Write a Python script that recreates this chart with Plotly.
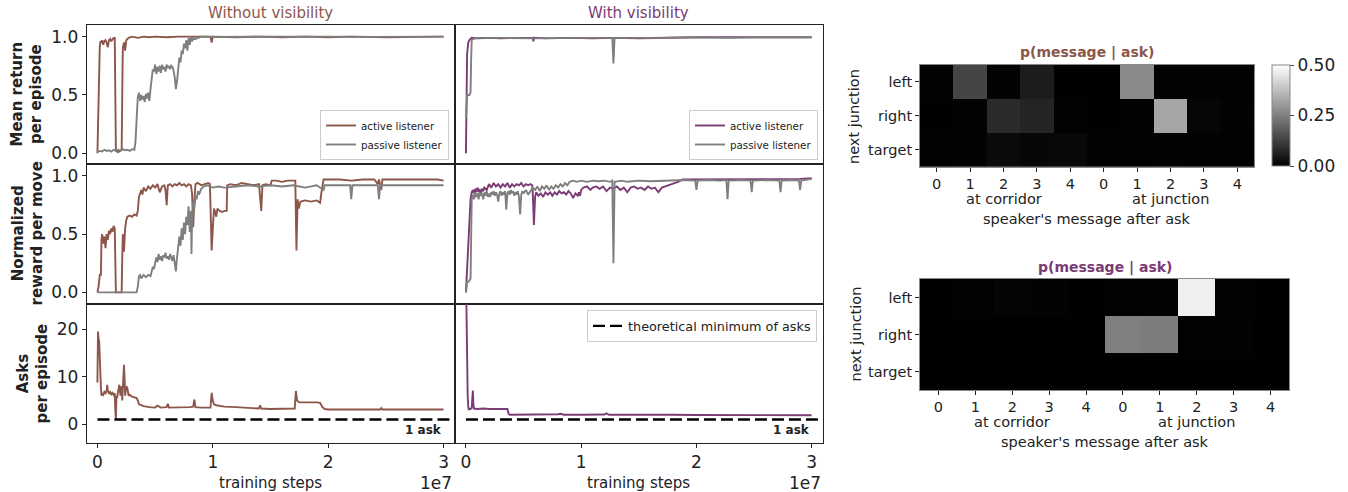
import plotly.graph_objects as go

# ---------------- DATA ----------------
# x in units of 1e7 training steps
wo_return_active = [(0,0.0),(0.005,0.3),(0.01,0.62),(0.015,0.58),(0.02,0.9),(0.025,0.96),(0.03,0.95),(0.04,0.97),(0.05,0.93),(0.06,0.96),
    (0.07,0.97),(0.08,0.95),(0.09,0.91),(0.10,0.97),(0.11,0.98),(0.12,0.96),(0.13,0.98),(0.14,0.99),(0.15,0.99),(0.155,0.5),
    (0.16,0.02),(0.18,0.01),(0.20,0.02),(0.21,0.03),(0.215,0.5),(0.22,0.9),(0.23,0.95),(0.24,0.88),(0.25,0.97),(0.26,0.98),
    (0.27,0.99),(0.30,1.0),(0.35,0.99),(0.40,1.0),(0.45,0.995),(0.50,1.0),(0.60,0.995),(0.70,1.0),(0.80,1.0),(0.90,0.995),
    (0.98,1.0),(0.99,0.95),(1.00,1.0),(1.2,0.995),(1.4,1.0),(1.6,0.995),(1.8,1.0),(2.0,0.995),(2.2,1.0),(2.5,0.995),(2.8,1.0),(3.0,1.0)]
wo_return_passive = [(0,0.01),(0.02,0.02),(0.04,0.015),(0.06,0.03),(0.08,0.02),(0.10,0.025),(0.12,0.015),(0.14,0.03),(0.16,0.02),
    (0.18,0.03),(0.20,0.02),(0.22,0.035),(0.24,0.025),(0.26,0.03),(0.28,0.02),(0.30,0.035),(0.32,0.03),(0.33,0.1),(0.34,0.3),
    (0.35,0.48),(0.36,0.52),(0.37,0.45),(0.38,0.5),(0.39,0.46),(0.40,0.49),(0.41,0.44),(0.42,0.51),(0.43,0.47),(0.44,0.52),
    (0.45,0.45),(0.46,0.55),(0.47,0.62),(0.48,0.72),(0.49,0.7),(0.50,0.76),(0.51,0.68),(0.52,0.74),(0.53,0.7),(0.54,0.75),
    (0.55,0.69),(0.56,0.76),(0.57,0.72),(0.58,0.74),(0.59,0.7),(0.60,0.76),(0.61,0.73),(0.62,0.75),(0.63,0.72),(0.64,0.75),
    (0.65,0.74),(0.66,0.71),(0.67,0.65),(0.68,0.55),(0.69,0.62),(0.70,0.7),(0.71,0.82),(0.72,0.78),(0.73,0.88),(0.74,0.85),
    (0.75,0.94),(0.76,0.9),(0.77,0.97),(0.78,0.88),(0.79,0.99),(0.80,0.93),(0.81,1.0),(0.82,0.96),(0.83,0.99),(0.85,0.98),
    (0.90,1.0),(1.0,0.998),(1.3,1.0),(1.6,0.998),(2.0,1.0),(2.4,0.998),(2.8,1.0),(3.0,1.0)]

wo_reward_active = [(0,0.0),(0.01,0.05),(0.02,0.15),(0.03,0.15),(0.035,0.45),(0.04,0.5),(0.05,0.42),(0.06,0.48),(0.07,0.38),
    (0.08,0.5),(0.09,0.45),(0.10,0.53),(0.11,0.5),(0.12,0.55),(0.13,0.52),(0.14,0.57),(0.15,0.55),(0.155,0.2),(0.16,0.0),
    (0.18,0.0),(0.20,0.0),(0.21,0.0),(0.215,0.3),(0.22,0.5),(0.23,0.35),(0.24,0.55),(0.25,0.62),(0.26,0.65),(0.28,0.66),
    (0.30,0.65),(0.32,0.67),(0.34,0.66),(0.35,0.7),(0.36,0.82),(0.37,0.85),(0.38,0.88),(0.39,0.84),(0.40,0.9),(0.42,0.87),
    (0.44,0.91),(0.46,0.89),(0.48,0.92),(0.50,0.9),(0.52,0.93),(0.54,0.86),(0.56,0.91),(0.58,0.92),(0.59,0.88),(0.60,0.75),
    (0.61,0.92),(0.63,0.93),(0.65,0.91),(0.67,0.93),(0.69,0.92),(0.71,0.94),(0.73,0.92),(0.75,0.93),(0.77,0.91),(0.79,0.93),
    (0.81,0.92),(0.82,0.85),(0.83,0.56),(0.84,0.8),(0.85,0.93),(0.87,0.94),(0.90,0.92),(0.93,0.93),(0.96,0.94),(0.975,0.93),
    (0.985,0.6),(0.99,0.36),(1.00,0.55),(1.01,0.72),(1.02,0.69),(1.03,0.65),(1.04,0.72),(1.06,0.7),(1.08,0.69),(1.10,0.7),
    (1.12,0.7),(1.125,0.92),(1.15,0.93),(1.2,0.92),(1.25,0.94),(1.3,0.93),(1.35,0.92),(1.40,0.93),(1.42,0.7),(1.43,0.92),
    (1.46,0.93),(1.50,0.92),(1.51,0.96),(1.55,0.96),(1.60,0.95),(1.65,0.96),(1.70,0.96),(1.715,0.96),(1.725,0.36),(1.735,0.8),
    (1.745,0.72),(1.76,0.78),(1.8,0.79),(1.85,0.78),(1.9,0.79),(1.93,0.77),(1.94,0.85),(1.96,0.97),(2.0,0.97),(2.1,0.97),
    (2.2,0.96),(2.3,0.97),(2.4,0.97),(2.43,0.93),(2.44,0.97),(2.46,0.88),(2.47,0.97),(2.6,0.97),(2.8,0.97),(2.95,0.97),(3.0,0.96)]
wo_reward_passive = [(0,0.0),(0.1,0.0),(0.2,0.0),(0.3,0.0),(0.34,0.0),(0.35,0.05),(0.36,0.14),(0.37,0.15),(0.38,0.12),(0.40,0.15),
    (0.42,0.13),(0.44,0.15),(0.46,0.14),(0.47,0.18),(0.48,0.22),(0.49,0.2),(0.50,0.27),(0.51,0.3),(0.52,0.26),(0.53,0.33),
    (0.54,0.28),(0.55,0.31),(0.56,0.27),(0.57,0.32),(0.58,0.3),(0.59,0.34),(0.60,0.29),(0.61,0.31),(0.62,0.28),(0.63,0.33),
    (0.64,0.3),(0.65,0.27),(0.66,0.32),(0.67,0.24),(0.68,0.18),(0.69,0.3),(0.70,0.42),(0.71,0.48),(0.72,0.4),(0.73,0.55),
    (0.74,0.45),(0.75,0.6),(0.76,0.5),(0.77,0.65),(0.78,0.58),(0.79,0.74),(0.80,0.52),(0.81,0.7),(0.815,0.33),(0.82,0.6),
    (0.83,0.78),(0.84,0.72),(0.85,0.83),(0.86,0.8),(0.87,0.87),(0.88,0.84),(0.90,0.89),(0.92,0.91),(0.95,0.92),(1.0,0.9),
    (1.05,0.91),(1.1,0.9),(1.2,0.91),(1.3,0.92),(1.4,0.91),(1.5,0.92),(1.6,0.91),(1.7,0.92),(1.8,0.9),(1.9,0.92),(1.96,0.88),
    (1.97,0.92),(2.1,0.92),(2.19,0.92),(2.2,0.8),(2.21,0.92),(2.3,0.92),(2.43,0.92),(2.44,0.8),(2.45,0.92),(2.6,0.92),
    (2.8,0.92),(3.0,0.92)]

wo_asks_active = [(0,8.8),(0.005,19.5),(0.01,18),(0.015,17.5),(0.02,12),(0.025,12.5),(0.03,8),(0.035,6),(0.04,6.5),(0.05,6.2),
    (0.06,6.8),(0.07,6.5),(0.08,7.0),(0.085,8.3),(0.09,7),(0.10,6.5),(0.11,6.8),(0.12,6.3),(0.13,6.6),(0.14,6.2),(0.15,6.5),
    (0.155,3),(0.16,1.0),(0.165,6),(0.17,5.5),(0.18,7),(0.19,8.3),(0.20,6),(0.21,8),(0.215,5),(0.225,11),(0.23,12.5),
    (0.235,10),(0.24,6),(0.25,8),(0.26,7.5),(0.27,6),(0.28,6.2),(0.30,5.8),(0.32,5.6),(0.34,5.5),(0.35,5),(0.36,4.2),
    (0.38,4.0),(0.40,3.8),(0.45,3.6),(0.50,3.5),(0.52,3.9),(0.55,3.5),(0.60,3.6),(0.61,4.3),(0.62,3.5),(0.70,3.5),(0.80,3.6),
    (0.83,3.7),(0.84,5.2),(0.85,3.6),(0.90,3.5),(0.98,3.5),(0.99,6.6),(1.0,5.0),(1.01,4.2),(1.03,4.0),(1.1,3.7),(1.2,3.6),
    (1.3,3.4),(1.40,3.3),(1.41,4.0),(1.42,3.3),(1.5,3.2),(1.6,3.2),(1.7,3.2),(1.71,3.3),(1.72,7.0),(1.73,5.0),(1.75,4.6),
    (1.8,4.6),(1.85,4.7),(1.90,4.6),(1.93,4.5),(1.95,3.6),(1.97,3.2),(2.0,3.1),(2.2,3.1),(2.45,3.1),(2.46,3.4),(2.47,3.1),
    (2.7,3.1),(3.0,3.1)]

wv_return_active = [(0,0.0),(0.005,0.4),(0.01,0.85),(0.02,0.95),(0.03,0.97),(0.05,0.99),(0.1,0.985),(0.2,0.99),(0.3,0.985),
    (0.4,0.99),(0.5,0.99),(0.58,0.99),(0.585,0.96),(0.59,0.99),(0.7,0.985),(0.9,0.99),(1.1,0.985),(1.3,0.99),(1.5,0.985),
    (1.7,0.99),(1.8,0.99),(2.0,0.995),(2.5,0.995),(3.0,0.995)]
wv_return_passive = [(0,0.3),(0.005,0.45),(0.01,0.5),(0.03,0.5),(0.04,0.52),(0.045,0.8),(0.05,0.97),(0.06,0.98),(0.1,0.99),
    (0.3,0.99),(0.6,0.985),(0.9,0.99),(1.27,0.99),(1.28,0.77),(1.29,0.99),(1.6,0.99),(2.0,0.995),(2.27,0.99),(2.5,0.995),
    (2.8,0.995),(3.0,0.995)]

wv_reward_active = [(0,0.0),(0.01,0.2),(0.02,0.45),(0.03,0.6),(0.04,0.8),(0.05,0.86),(0.06,0.88),(0.07,0.85),(0.08,0.89),
    (0.09,0.86),(0.10,0.9),(0.11,0.87),(0.12,0.88),(0.13,0.85),(0.14,0.89),(0.15,0.87),(0.16,0.9),(0.18,0.88),(0.20,0.93),
    (0.22,0.9),(0.24,0.94),(0.26,0.91),(0.28,0.93),(0.30,0.9),(0.32,0.93),(0.34,0.91),(0.36,0.94),(0.38,0.9),(0.40,0.93),
    (0.42,0.91),(0.44,0.93),(0.46,0.92),(0.48,0.94),(0.50,0.91),(0.52,0.93),(0.54,0.92),(0.56,0.93),(0.575,0.92),(0.58,0.85),
    (0.59,0.58),(0.60,0.82),(0.61,0.86),(0.63,0.83),(0.65,0.85),(0.67,0.82),(0.69,0.86),(0.71,0.84),(0.73,0.86),(0.75,0.83),
    (0.77,0.86),(0.79,0.84),(0.81,0.87),(0.83,0.85),(0.85,0.86),(0.87,0.84),(0.89,0.87),(0.91,0.85),(0.93,0.81),(0.95,0.85),
    (0.97,0.83),(0.98,0.86),(0.99,0.83),(1.00,0.88),(1.02,0.9),(1.05,0.91),(1.08,0.88),(1.1,0.9),(1.13,0.91),(1.16,0.89),
    (1.19,0.91),(1.22,0.87),(1.25,0.9),(1.28,0.89),(1.31,0.91),(1.34,0.88),(1.37,0.9),(1.40,0.86),(1.43,0.9),(1.46,0.91),
    (1.49,0.89),(1.52,0.9),(1.55,0.88),(1.58,0.91),(1.61,0.89),(1.64,0.9),(1.67,0.86),(1.70,0.9),(1.73,0.91),(1.76,0.92),
    (1.80,0.93),(1.84,0.95),(1.88,0.97),(1.95,0.97),(2.1,0.975),(2.3,0.97),(2.5,0.975),(2.7,0.97),(2.9,0.975),(3.0,0.98)]
wv_reward_passive = [(0,0.0),(0.005,0.06),(0.01,0.09),(0.02,0.09),(0.03,0.1),(0.04,0.12),(0.045,0.5),(0.05,0.8),(0.06,0.84),
    (0.07,0.8),(0.08,0.86),(0.09,0.82),(0.10,0.85),(0.11,0.8),(0.12,0.86),(0.13,0.83),(0.14,0.85),(0.15,0.8),(0.16,0.86),
    (0.17,0.83),(0.18,0.87),(0.19,0.82),(0.20,0.85),(0.21,0.82),(0.22,0.86),(0.23,0.84),(0.24,0.87),(0.25,0.83),(0.26,0.86),
    (0.27,0.84),(0.28,0.78),(0.29,0.85),(0.30,0.87),(0.31,0.83),(0.32,0.86),(0.33,0.84),(0.34,0.87),(0.35,0.71),(0.36,0.85),
    (0.37,0.87),(0.38,0.84),(0.39,0.88),(0.40,0.85),(0.41,0.87),(0.42,0.83),(0.43,0.86),(0.44,0.84),(0.45,0.87),(0.46,0.82),
    (0.47,0.67),(0.48,0.84),(0.49,0.87),(0.50,0.85),(0.52,0.88),(0.54,0.84),(0.56,0.87),(0.58,0.9),(0.60,0.88),(0.62,0.91),
    (0.64,0.87),(0.66,0.91),(0.68,0.89),(0.70,0.92),(0.72,0.88),(0.74,0.91),(0.76,0.89),(0.78,0.92),(0.80,0.9),(0.82,0.93),
    (0.84,0.91),(0.86,0.94),(0.88,0.92),(0.90,0.95),(0.93,0.96),(0.96,0.95),(1.0,0.96),(1.05,0.95),(1.1,0.96),(1.15,0.955),
    (1.2,0.96),(1.25,0.95),(1.27,0.96),(1.28,0.25),(1.29,0.95),(1.35,0.96),(1.4,0.95),(1.5,0.96),(1.6,0.955),(1.7,0.96),
    (1.8,0.96),(1.9,0.965),(1.99,0.96),(2.0,0.88),(2.01,0.96),(2.1,0.965),(2.2,0.96),(2.26,0.965),(2.27,0.8),(2.28,0.96),
    (2.4,0.965),(2.47,0.96),(2.48,0.86),(2.49,0.96),(2.6,0.965),(2.72,0.96),(2.73,0.86),(2.74,0.96),(2.85,0.965),(2.89,0.96),
    (2.9,0.88),(2.91,0.96),(3.0,0.975)]

wv_asks_active = [(0,32),(0.005,20),(0.01,12),(0.015,6),(0.02,3.7),(0.025,3.0),(0.03,3.3),(0.04,3.2),(0.05,3.4),(0.06,7.1),
    (0.065,4),(0.07,3.3),(0.1,3.2),(0.15,3.3),(0.2,3.2),(0.25,3.25),(0.3,3.2),(0.36,3.2),(0.37,2.2),(0.38,2.0),(0.5,2.0),
    (0.8,2.1),(0.82,2.2),(0.85,2.0),(1.0,2.0),(1.2,2.05),(1.22,2.3),(1.24,2.0),(1.5,2.0),(1.7,2.1),(1.8,2.0),(2.0,1.95),
    (2.5,1.95),(3.0,1.9)]

min_asks_x = [0, 3.3]
min_asks_y = [1, 1]

msg_labels = ["0", "1", "2", "3", "4", "0", "1", "2", "3", "4"]
junction_labels = ["left", "right", "target"]
wo_heat = [[0.003, 0.135, 0.005, 0.055, 0.002, 0.002, 0.27, 0.003, 0.004, 0.003],
           [0.002, 0.004, 0.085, 0.07, 0.003, 0.002, 0.003, 0.325, 0.012, 0.005],
           [0.004, 0.006, 0.022, 0.014, 0.016, 0.004, 0.004, 0.005, 0.004, 0.003]]
wv_heat = [[0.002, 0.003, 0.01, 0.005, 0.002, 0.003, 0.004, 0.47, 0.003, 0.002],
           [0.001, 0.002, 0.002, 0.002, 0.002, 0.25, 0.245, 0.003, 0.006, 0.002],
           [0.001, 0.001, 0.001, 0.001, 0.001, 0.001, 0.001, 0.001, 0.001, 0.001]]

# ---------------- STYLE ----------------
W, H = 1348, 492
FONT = "DejaVu Sans"
BROWN = "#8c564b"
PURPLE = "#7b3b74"
GREY = "#7f7f7f"
SPINE = "#222222"

def fx(p): return p / W
def fy(p): return 1 - p / H

colL = [fx(86.7), fx(455)]
colR = [fx(455), fx(822.7)]
rows = [[fy(164), fy(25)], [fy(304), fy(164)], [fy(443), fy(304)]]

fig = go.Figure()

def line(data, color, xa, ya, name=None, legend=None):
    fig.add_trace(go.Scatter(x=[p[0] for p in data], y=[p[1] for p in data], mode="lines",
                             line=dict(color=color, width=1.9), xaxis=xa, yaxis=ya,
                             name=name, showlegend=legend is not None, legend=legend or "legend",
                             hoverinfo="skip"))

line(wo_return_active, BROWN, "x", "y", "active listener", "legend")
line(wo_return_passive, GREY, "x", "y", "passive listener", "legend")
line(wv_return_active, PURPLE, "x2", "y2", "active listener", "legend2")
line(wv_return_passive, GREY, "x2", "y2", "passive listener", "legend2")
line(wo_reward_active, BROWN, "x3", "y3")
line(wo_reward_passive, GREY, "x3", "y3")
line(wv_reward_active, PURPLE, "x4", "y4")
line(wv_reward_passive, GREY, "x4", "y4")
line(wo_asks_active, BROWN, "x5", "y5")
line(wv_asks_active, PURPLE, "x6", "y6")
for xa, ya, lg in (("x5", "y5", None), ("x6", "y6", "legend3")):
    fig.add_trace(go.Scatter(x=min_asks_x, y=min_asks_y, mode="lines",
                             line=dict(color="black", width=2.3, dash="12px,5px"),
                             xaxis=xa, yaxis=ya, name="theoretical minimum of asks",
                             showlegend=lg is not None, legend=lg or "legend", hoverinfo="skip"))

gray_scale = [[0, "black"], [1, "white"]]
fig.add_trace(go.Heatmap(z=wo_heat, x=list(range(10)), y=[0, 1, 2], xaxis="x7", yaxis="y7",
                         colorscale=gray_scale, zmin=0, zmax=0.5, showscale=True, hoverinfo="skip",
                         colorbar=dict(x=fx(1272), xanchor="left", y=fy(115.5), yanchor="middle",
                                       len=101, lenmode="pixels", thickness=18, thicknessmode="pixels",
                                       outlinewidth=1, outlinecolor="#888", ticks="outside", ticklen=4,
                                       tickvals=[0, 0.25, 0.5], ticktext=["0.00", "0.25", "0.50"],
                                       tickfont=dict(size=17, color="#222", family=FONT), xpad=0, ypad=0)))
fig.add_trace(go.Heatmap(z=wv_heat, x=list(range(10)), y=[0, 1, 2], xaxis="x8", yaxis="y8",
                         colorscale=gray_scale, zmin=0, zmax=0.5, showscale=False, hoverinfo="skip"))

tickfont = dict(size=17, color="#222", family=FONT)
xr_L = [-0.093, 3.099]
xr_R = [-0.095, 3.096]
yr = [[-0.092, 1.1], [-0.1, 1.103], [-3.95, 25.3]]

def xaxis(dom, rng, anchor, bottom):
    return dict(domain=dom, range=rng, anchor=anchor, showline=True, mirror=True, linecolor=SPINE,
                linewidth=1, showgrid=False, zeroline=False, tickvals=[0, 1, 2, 3],
                ticktext=["0", "1", "2", "3"], ticks="outside" if bottom else "", ticklen=4,
                showticklabels=bottom, tickfont=tickfont, tickcolor=SPINE)

def yaxis(dom, rng, anchor, left, r):
    if r < 2:
        tv, tt = [0, 0.5, 1], ["0.0", "0.5", "1.0"]
    else:
        tv, tt = [0, 10, 20], ["0", "10", "20"]
    return dict(domain=dom, range=rng, anchor=anchor, showline=True, mirror=True, linecolor=SPINE,
                linewidth=1, showgrid=False, zeroline=False, tickvals=tv, ticktext=tt,
                ticks="outside" if left else "", ticklen=4, showticklabels=left, tickfont=tickfont,
                tickcolor=SPINE)

layout = dict(width=W, height=H, margin=dict(l=0, r=0, t=0, b=0), plot_bgcolor="white",
              paper_bgcolor="white", font=dict(family=FONT, color="#222"))
names = ["", "2", "3", "4", "5", "6"]
for r in range(3):
    for c in range(2):
        n = names[r * 2 + c]
        layout["xaxis" + n] = xaxis(colL if c == 0 else colR, xr_L if c == 0 else xr_R, "y" + n, r == 2)
        layout["yaxis" + n] = yaxis(rows[r], yr[r], "x" + n, c == 0, r)

hm_tickfont = dict(size=14.5, color="#222", family=FONT)
def hx(dom, anchor):
    return dict(domain=dom, range=[-0.5, 9.5], anchor=anchor, showline=True, mirror=True,
                linecolor="#888", linewidth=1, showgrid=False, zeroline=False,
                tickvals=list(range(10)), ticktext=msg_labels, ticks="outside", ticklen=4,
                tickcolor="#222", tickfont=hm_tickfont)
def hy(dom, anchor):
    return dict(domain=dom, range=[2.5, -0.5], anchor=anchor, showline=True, mirror=True,
                linecolor="#888", linewidth=1, showgrid=False, zeroline=False,
                tickvals=[0, 1, 2], ticktext=junction_labels, ticks="outside", ticklen=4,
                tickcolor="#222", tickfont=hm_tickfont)

layout["xaxis7"] = hx([fx(920), fx(1254)], "y7")
layout["yaxis7"] = hy([fy(166.7), fy(65)], "x7")
layout["xaxis8"] = hx([fx(920), fx(1289)], "y8")
layout["yaxis8"] = hy([fy(390), fy(279)], "x8")

leg_common = dict(bgcolor="rgba(255,255,255,0.85)", bordercolor="#cccccc", borderwidth=1,
                  itemwidth=30, tracegroupgap=0, xref="paper", yref="paper")
layout["legend"] = dict(x=fx(449), xanchor="right", y=fy(160), yanchor="bottom",
                        font=dict(size=10.3, family=FONT, color="#222"), **leg_common)
layout["legend2"] = dict(x=fx(818), xanchor="right", y=fy(160), yanchor="bottom",
                         font=dict(size=10.3, family=FONT, color="#222"), **leg_common)
layout["legend3"] = dict(x=fx(817), xanchor="right", y=fy(310), yanchor="top",
                         font=dict(size=12.8, family=FONT, color="#222"), **leg_common)
fig.update_layout(**layout)

def ann(text, x, y, size, color="#222", bold=False, angle=0, xanchor="center", yanchor="middle",
        xref="paper", yref="paper"):
    if bold:
        text = "<b>" + text + "</b>"
    fig.add_annotation(text=text, x=x, y=y, xref=xref, yref=yref, showarrow=False,
                       font=dict(size=size, color=color, family=FONT), textangle=angle,
                       xanchor=xanchor, yanchor=yanchor)

# column titles
ann("Without visibility", fx(270.8), fy(13), 15, BROWN)
ann("With visibility", fx(638.8), fy(13), 15, PURPLE)
# row labels
ann("Mean return<br>per episode", fx(26), fy(94.5), 15, bold=True, angle=-90)
ann("Normalized<br>reward per move", fx(27.5), fy(234), 15, bold=True, angle=-90)
ann("Asks<br>per episode", fx(32), fy(373.5), 15, bold=True, angle=-90)
# x labels
for cx, right in ((270.8, 454), (638.8, 822.7)):
    ann("training steps", fx(cx), fy(483), 15)
    ann("1e7", fx(right), fy(483), 17, xanchor="right")
# "1 ask"
ann("1 ask", 3.0, -1.3, 12, bold=True, xanchor="right", xref="x5", yref="y5")
ann("1 ask", 3.0, -1.3, 12, bold=True, xanchor="right", xref="x6", yref="y6")

# heatmap labels
ann("p(message | ask)", fx(1087), fy(53), 14, BROWN, bold=True)
ann("p(message | ask)", fx(1104.5), fy(267), 14, PURPLE, bold=True)
ann("next junction", fx(854), fy(116), 14.5, angle=-90)
ann("next junction", fx(855), fy(334.5), 14.5, angle=-90)
ann("at corridor", 2, fy(199), 14.5, xref="x7")
ann("at junction", 7, fy(199), 14.5, xref="x7")
ann("speaker's message after ask", fx(1087), fy(218.5), 14.5)
ann("at corridor", 2, fy(421.5), 14.5, xref="x8")
ann("at junction", 7, fy(421.5), 14.5, xref="x8")
ann("speaker's message after ask", fx(1104.5), fy(441.5), 14.5)

fig.write_html("out.html")
